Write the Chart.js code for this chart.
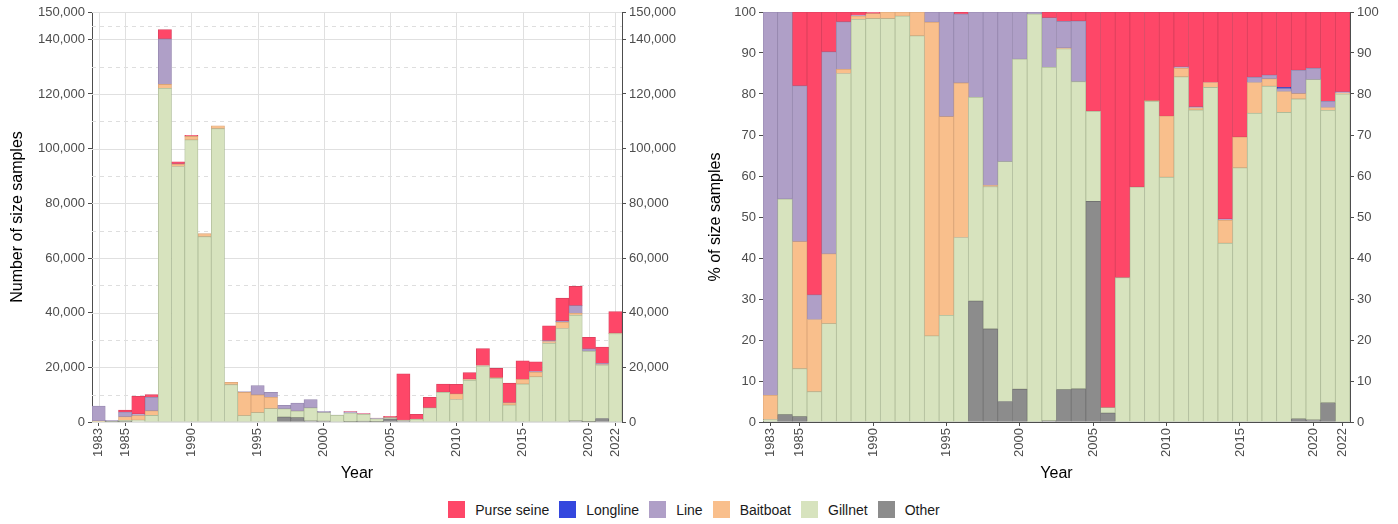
<!DOCTYPE html>
<html>
<head>
<meta charset="utf-8">
<script src="https://cdn.jsdelivr.net/npm/chart.js@4.4.1/dist/chart.umd.min.js"></script>
<style>
  body { margin: 0; background: #fff; width: 1398px; height: 524px; overflow: hidden;
         font-family: "Liberation Sans", Arial, sans-serif; }
  .panel { position: absolute; top: 0; height: 490px; }
  #leftBox { left: 0; width: 700px; }
  #rightBox { left: 700px; width: 698px; }
  #legend { position: absolute; left: 0; top: 501px; width: 1398px; display: flex;
            justify-content: center; align-items: center; font-size: 14px; color: #1a1a1a; }
  #legend .sw { width: 17px; height: 17px; margin-right: 10px; }
  #legend .lb { margin-right: 10px; }
</style>
</head>
<body>
<div class="panel" id="leftBox"><canvas id="countChart"></canvas></div>
<div class="panel" id="rightBox"><canvas id="pctChart"></canvas></div>
<div id="legend"></div>
<script>
const years = [];
for (let y = 1983; y <= 2022; y++) years.push(String(y));

const tickYears = ["1983", "1985", "1990", "1995", "2000", "2005", "2010", "2015", "2020", "2022"];
const countMajor = [0, 20000, 40000, 60000, 80000, 100000, 120000, 140000, 150000];
const countMinor = [10000, 30000, 50000, 70000, 90000, 110000, 130000, 145000];
const pctTicks = [0, 10, 20, 30, 40, 50, 60, 70, 80, 90, 100];

// total number of size samples per year (left panel)
const totals = [5860, 600, 4400, 9400, 10000, 143600, 95200, 104900, 68900, 108400,
  14500, 11100, 13300, 10900, 6100, 6950, 8200, 3900, 2500, 3800,
  3100, 1400, 2100, 17600, 2800, 9000, 13900, 13800, 18100, 26900,
  19600, 14200, 22400, 22000, 35200, 45300, 49600, 31000, 27400, 40400];

// share of samples by gear, % (right panel)
const purseSeine = [0, 0, 18, 69, 9.7, 2.4, 0.8, 0.4, 0, 0,
  0, 0, 0, 0.5, 0, 0, 0, 0, 0, 1.4,
  2.3, 2.2, 24.2, 96.5, 64.8, 42.7, 21.6, 25.4, 13.4, 23.1,
  17.2, 50.5, 30.5, 15.9, 15.4, 18.4, 14.2, 13.7, 21.8, 19.5];
const longline = [0, 0, 0, 0, 0, 0, 0, 0, 0, 0,
  0, 0, 0, 0, 0, 0, 0, 0, 0, 0,
  0, 0, 0, 0, 0, 0, 0, 0, 0, 0,
  0, 0, 0, 0, 0, 0.3, 0, 0, 0, 0];
const line = [93.5, 45.6, 38, 6, 49.3, 11.6, 0.2, 0, 0, 0,
  0, 2.5, 25.5, 16.8, 20.8, 42.3, 36.5, 11.5, 0.5, 12.1,
  6.5, 14.8, 0, 0, 0, 0, 0, 0, 0.3, 0.3,
  0, 0.3, 0, 1.3, 0.9, 0.7, 5.7, 2.8, 1.5, 0.3];
const baitboat = [5.9, 0, 31, 17.6, 17, 1, 0.8, 1.2, 1.6, 1,
  5.8, 76.5, 48.5, 37.7, 0, 0.3, 0, 0, 0, 0,
  0.2, 0, 0, 0, 0, 0, 0.2, 14.9, 2.1, 0.5,
  1.2, 5.6, 7.5, 7.5, 1.8, 5.1, 1.3, 0, 0.7, 0.2];
const gillnet = [0.6, 52.6, 11.7, 7.4, 24, 85, 98.2, 98.4, 98.4, 99,
  94.2, 21, 26, 45, 49.7, 34.7, 58.5, 80.5, 99.5, 86.2,
  83.1, 74.9, 22, 1.3, 35.2, 57.3, 78.2, 59.7, 84.2, 76.1,
  81.6, 43.6, 62, 75.3, 81.9, 75.5, 78, 83, 71.3, 80];
const other = [0, 1.8, 1.3, 0, 0, 0, 0, 0, 0, 0,
  0, 0, 0, 0, 29.5, 22.7, 5, 8, 0, 0.3,
  7.9, 8.1, 53.8, 2.2, 0, 0, 0, 0, 0, 0,
  0, 0, 0, 0, 0, 0, 0.8, 0.5, 4.7, 0];

const gears = [
  { name: "Purse seine", pct: purseSeine, color: "#FE4768", edge: "#D93F5C" },
  { name: "Longline", pct: longline, color: "#3447DE", edge: "#2A3AB8" },
  { name: "Line", pct: line, color: "#AF9FC7", edge: "#9587AE" },
  { name: "Baitboat", pct: baitboat, color: "#F9BF8C", edge: "#D9A477" },
  { name: "Gillnet", pct: gillnet, color: "#D7E3BE", edge: "#AEBB98" },
  { name: "Other", pct: other, color: "#8C8C8C", edge: "#727272" }
];

const FONT = "'Liberation Sans', Arial, sans-serif";
const tickFont = { family: FONT, size: 13 };
const titleFont = { family: FONT, size: 16 };

// legend
const legend = document.getElementById("legend");
gears.forEach(g => {
  legend.insertAdjacentHTML("beforeend",
    `<div class="sw" style="background:${g.color}"></div><div class="lb">${g.name}</div>`);
});

// stacking bottom -> top: Other, Gillnet, Baitboat, Line, Longline, Purse seine
const stackOrder = gears.slice().reverse();

const fixSize = size => function (scale) {
  if (scale.isHorizontal()) scale.height = size; else scale.width = size;
};

const keepYearTicks = scale => {
  scale.ticks = scale.ticks.filter(t => tickYears.includes(years[t.value]));
};

const countGrid = {
  id: "countGrid",
  beforeDatasetsDraw(chart) {
    const { ctx, chartArea: a, scales: { x, y } } = chart;
    ctx.save();
    ctx.lineWidth = 1;
    ctx.strokeStyle = "#DEDEDE";
    ctx.setLineDash([4, 4]);
    countMinor.forEach(v => {
      const py = Math.round(y.getPixelForValue(v)) + 0.5;
      ctx.beginPath(); ctx.moveTo(a.left, py); ctx.lineTo(a.right, py); ctx.stroke();
    });
    ctx.setLineDash([]);
    ctx.strokeStyle = "#E0E0E0";
    countMajor.forEach(v => {
      const py = Math.round(y.getPixelForValue(v)) + 0.5;
      ctx.beginPath(); ctx.moveTo(a.left, py); ctx.lineTo(a.right, py); ctx.stroke();
    });
    tickYears.forEach(yr => {
      const px = Math.round(x.getPixelForValue(years.indexOf(yr))) + 0.5;
      ctx.beginPath(); ctx.moveTo(px, a.top); ctx.lineTo(px, a.bottom); ctx.stroke();
    });
    ctx.restore();
  }
};

const yAxis = (pos, width, ticks, max, title, titlePad, fmt) => ({
  type: "linear",
  position: pos,
  min: 0,
  max: max,
  stacked: pos === "left",
  afterFit: fixSize(width),
  afterBuildTicks: s => { s.ticks = ticks.map(v => ({ value: v })); },
  border: { display: true, color: "#4D4D4D", width: 1 },
  grid: { display: true, drawOnChartArea: false, drawTicks: true, tickLength: 4, tickColor: "#4D4D4D" },
  ticks: { font: tickFont, color: "#4D4D4D", padding: 3, callback: fmt },
  title: title ? { display: true, text: title, font: titleFont, color: "#000", padding: { top: titlePad } } : { display: false }
});

function makeChart(id, datasets, o) {
  return new Chart(document.getElementById(id), {
    type: "bar",
    data: { labels: years, datasets: datasets },
    options: {
      responsive: true,
      maintainAspectRatio: false,
      animation: false,
      layout: { padding: { top: 12, left: 0, right: 0, bottom: 0 } },
      plugins: { legend: { display: false }, tooltip: { enabled: false } },
      scales: {
        x: {
          type: "category",
          stacked: true,
          offset: true,
          afterFit: fixSize(68),
          afterBuildTicks: keepYearTicks,
          border: { display: true, color: "#4D4D4D", width: 1 },
          grid: { display: true, offset: false, drawOnChartArea: false, drawTicks: true, tickLength: 4, tickColor: "#4D4D4D" },
          ticks: { font: tickFont, color: "#4D4D4D", padding: 2, autoSkip: false, minRotation: 90, maxRotation: 90 },
          title: { display: true, text: "Year", font: titleFont, color: "#000", padding: { bottom: 7 } }
        },
        y: yAxis("left", o.leftW, o.ticks, o.max, o.title, o.titlePad, o.fmt),
        y2: yAxis("right", o.rightW, o.ticks, o.max, null, 0, o.fmt)
      }
    },
    plugins: o.plugins || []
  });
}

const barStyle = g => ({
  label: g.name,
  backgroundColor: g.color,
  borderColor: g.edge,
  borderWidth: 0.8,
  borderSkipped: false,
  barPercentage: 1,
  categoryPercentage: 1,
  yAxisID: "y"
});

const fmtCount = v => v.toLocaleString("en-US");

makeChart("countChart",
  stackOrder.map(g => Object.assign(barStyle(g), {
    data: g.pct.map((p, i) => Math.round(totals[i] * p / 100))
  })),
  {
    leftW: 92, rightW: 78, max: 150000,
    ticks: countMajor,
    title: "Number of size samples", titlePad: 8,
    fmt: fmtCount,
    plugins: [countGrid]
  });

makeChart("pctChart",
  stackOrder.map(g => Object.assign(barStyle(g), { data: g.pct })),
  {
    leftW: 63, rightW: 48, max: 100,
    ticks: pctTicks,
    title: "% of size samples", titlePad: 6,
    fmt: v => v
  });
</script>
</body>
</html>
